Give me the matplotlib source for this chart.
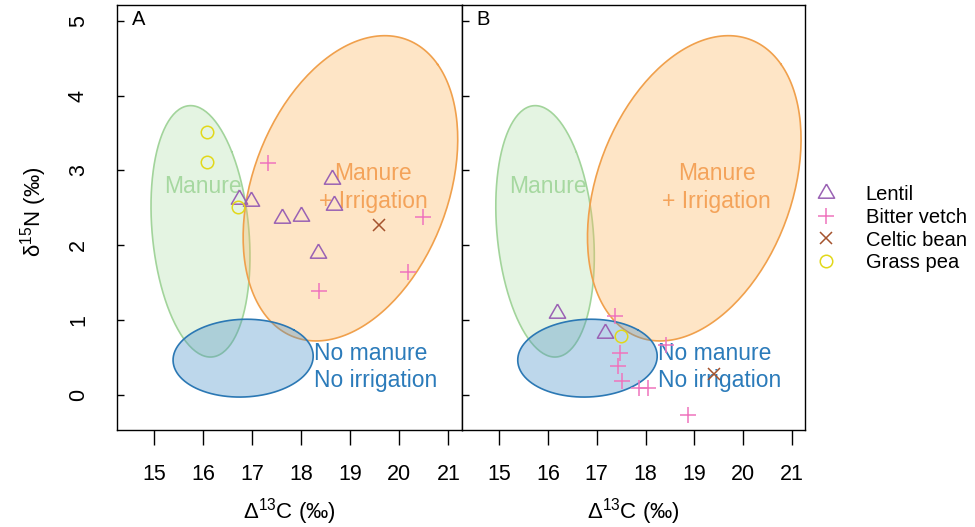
import numpy as np
import matplotlib
matplotlib.use("Agg")
import matplotlib.pyplot as plt
from matplotlib.lines import Line2D
from matplotlib.patches import Polygon

plt.rcParams['font.family'] = ['Liberation Sans', 'DejaVu Sans']
plt.rcParams['mathtext.fontset'] = 'custom'
plt.rcParams['mathtext.rm'] = 'Liberation Sans'
plt.rcParams['mathtext.it'] = 'Liberation Sans'
plt.rcParams['mathtext.default'] = 'regular'

# ---- data: carbon discrimination (x) and nitrogen isotope (y) ----
lentil_a_x = [16.73, 16.97, 17.60, 17.99, 18.63, 18.67, 18.33]
lentil_a_y = [2.62, 2.59, 2.36, 2.39, 2.89, 2.54, 1.89]
vetch_a_x = [17.31, 18.35, 20.17, 20.48]
vetch_a_y = [3.10, 1.39, 1.64, 2.38]
bean_a_x = [19.59]
bean_a_y = [2.27]
pea_a_x = [16.08, 16.07, 16.71]
pea_a_y = [3.51, 3.11, 2.51]

lentil_b_x = [16.19, 17.16]
lentil_b_y = [1.10, 0.82]
vetch_b_x = [17.38, 18.42, 17.48, 17.44, 17.52, 17.86, 18.06, 18.88]
vetch_b_y = [1.05, 0.67, 0.56, 0.38, 0.18, 0.09, 0.09, -0.27]
bean_b_x = [19.40]
bean_b_y = [0.28]
pea_b_x = [17.50]
pea_b_y = [0.78]

species = ["Lentil", "Bitter vetch", "Celtic bean", "Grass pea"]

# ---- reference growing-condition ellipses: centre, half-ranges, correlation ----
ell_names = ["Manure", "Manure\n+ Irrigation", "No manure\nNo irrigation"]
ell_cx = [15.94, 19.00, 16.81]
ell_cy = [2.185, 2.76, 0.49]
ell_hx = [1.01, 2.19, 1.43]
ell_hy = [1.68, 2.04, 0.52]
ell_r = [-0.20, 0.32, 0.05]
ell_face = ['#a6dba0', '#fdb863', '#4a90c8']
ell_edge = ['#a2d49b', '#f0a04c', '#2b78b4']
ell_alpha = [0.30, 0.36, 0.36]
ell_text_color = ['#a6d8a0', '#f4a35a', '#2b7bba']
ell_text_x = [15.99, 19.46, 18.26]
ell_text_y = [2.78, 2.77, 0.37]
ell_text_ha = ['center', 'center', 'left']

colors = {'Lentil': '#9a62b4', 'Bitter vetch': '#ef74bd',
          'Celtic bean': '#a5532d', 'Grass pea': '#e2d81a'}

tri = [(0, 1), (0.866, -0.5), (-0.866, -0.5), (0, 1)]
marker_style = {
    'Lentil': dict(marker=tri, ms=13.5, mew=1.1, mfc='none'),
    'Bitter vetch': dict(marker='+', ms=12, mew=1.1),
    'Celtic bean': dict(marker='x', ms=9, mew=1.1),
    'Grass pea': dict(marker='o', ms=9, mew=1.1, mfc='none'),
}


def ellipse_xy(cx, cy, hx, hy, r, n=200):
    d = np.arccos(r)
    a = np.linspace(0, 2 * np.pi, n)
    return cx + hx * np.cos(a + d / 2), cy + hy * np.cos(a - d / 2)


fig = plt.figure(figsize=(9.75, 5.27), dpi=100)
bottom, height = 0.1841, 0.8064
ax_a = fig.add_axes([0.1197, bottom, 0.3538, height])
ax_b = fig.add_axes([0.4735, bottom, 0.3521, height])

panels = [
    (ax_a, 'A', [(lentil_a_x, lentil_a_y), (vetch_a_x, vetch_a_y),
                 (bean_a_x, bean_a_y), (pea_a_x, pea_a_y)]),
    (ax_b, 'B', [(lentil_b_x, lentil_b_y), (vetch_b_x, vetch_b_y),
                 (bean_b_x, bean_b_y), (pea_b_x, pea_b_y)]),
]

for ax, tag, groups in panels:
    for i in range(3):
        ex, ey = ellipse_xy(ell_cx[i], ell_cy[i], ell_hx[i], ell_hy[i], ell_r[i])
        ax.add_patch(Polygon(np.column_stack([ex, ey]), closed=True,
                             facecolor=ell_face[i], alpha=ell_alpha[i],
                             edgecolor='none', zorder=1 + i))
        ax.plot(ex, ey, color=ell_edge[i], lw=1.2, zorder=1.5 + i)
        ax.text(ell_text_x[i], ell_text_y[i], ell_names[i], color=ell_text_color[i],
                fontsize=16.5, ha=ell_text_ha[i], va='center', linespacing=1.25,
                multialignment=ell_text_ha[i], zorder=5)
    for name, (gx, gy) in zip(species, groups):
        ax.plot(gx, gy, ls='none', color=colors[name], zorder=6,
                **marker_style[name])
    ax.set_xlim(14.23, 21.27)
    ax.set_ylim(-0.47, 5.21)
    ax.set_xticks(range(15, 22))
    ax.set_yticks(range(0, 6))
    ax.tick_params(axis='x', direction='out', length=10.8, width=1.0,
                   pad=14, labelsize=15.5)
    ax.tick_params(axis='y', direction='in', length=5, width=1.0,
                   pad=20, labelsize=15.5, labelrotation=90)
    for lab in ax.get_yticklabels():
        lab.set_va('center')
    for s in ax.spines.values():
        s.set_linewidth(1.0)
    ax.text(0.043, 0.965, tag, transform=ax.transAxes, fontsize=14.5,
            ha='left', va='center')
    fig.text((ax.get_position().x0 + ax.get_position().x1) / 2, 0.0285,
             'Δ$^{13}$C (‰)', ha='center', va='center', fontsize=16)

ax_b.tick_params(axis='y', labelleft=False)

fig.text(0.034, 0.598, 'δ$^{15}$N (‰)', rotation=90, ha='center',
         va='center', fontsize=16)

handles = [Line2D([], [], ls='none', color=colors[n], **marker_style[n])
           for n in species]
fig.legend(handles, species, loc='center left', bbox_to_anchor=(0.8135, 0.566),
           frameon=False, fontsize=14.5, labelspacing=0.18, handlelength=1.5,
           handletextpad=1.2)

fig.savefig('out.png', dpi=100)
